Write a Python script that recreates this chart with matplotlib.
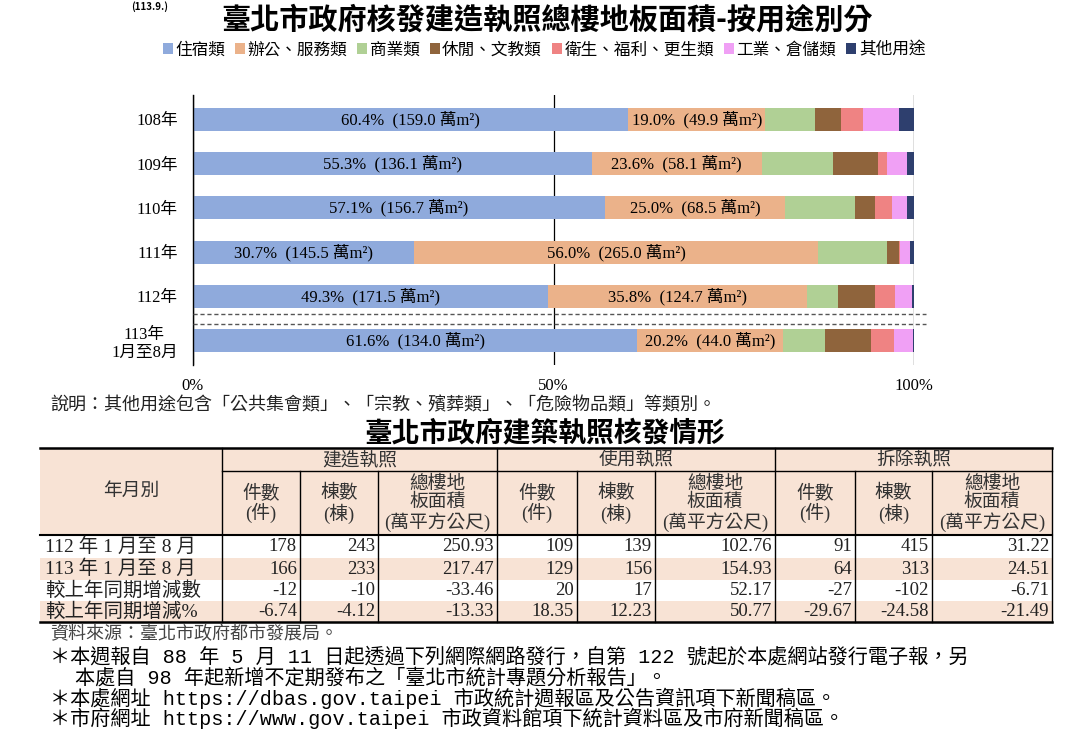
import numpy as np
import matplotlib.pyplot as plt
from matplotlib.patches import Patch, Rectangle

SERIF = ['Liberation Serif', 'Noto Sans CJK TC']
CJK = ['Noto Sans CJK TC', 'DejaVu Sans']
MONO = ['Liberation Mono', 'Noto Sans CJK TC']

# --- chart data (percent of floor area by use) ---
years = ['108年', '109年', '110年', '111年', '112年', '113年\n1月至8月']
categories = ['住宿類', '辦公、服務類', '商業類', '休閒、文教類',
              '衛生、福利、更生類', '工業、倉儲類', '其他用途']
residential = [60.4, 55.3, 57.1, 30.7, 49.3, 61.6]
office = [19.0, 23.6, 25.0, 56.0, 35.8, 20.2]
commercial = [6.8, 9.8, 9.7, 9.6, 4.3, 5.9]
leisure = [3.7, 6.3, 2.8, 1.6, 5.2, 6.3]
health = [3.0, 1.3, 2.3, 0.2, 2.8, 3.2]
industry = [5.0, 2.7, 2.1, 1.3, 2.3, 2.7]
other = [2.1, 1.0, 1.0, 0.6, 0.3, 0.1]
residential_area = [159.0, 136.1, 156.7, 145.5, 171.5, 134.0]
office_area = [49.9, 58.1, 68.5, 265.0, 124.7, 44.0]
colors = ['#8faadc', '#ebb28a', '#b0d095', '#8f643c', '#ef8383', '#f0a0f5', '#2e3f6e']

# --- table data ---
row_labels = ['112 年 1 月至 8 月', '113 年 1 月至 8 月', '較上年同期增減數', '較上年同期增減%']
groups = ['建造執照', '使用執照', '拆除執照']
sub_heads = ['件數\n(件)', '棟數\n(棟)', '總樓地\n板面積\n(萬平方公尺)']
row112 = [178, 243, 250.93, 109, 139, 102.76, 91, 415, 31.22]
row113 = [166, 233, 217.47, 129, 156, 154.93, 64, 313, 24.51]
row_diff = [-12, -10, -33.46, 20, 17, 52.17, -27, -102, -6.71]
row_pct = [-6.74, -4.12, -13.33, 18.35, 12.23, 50.77, -29.67, -24.58, -21.49]

fig = plt.figure(figsize=(10.8, 7.41), dpi=100)
W, H = 1080, 741

# overlay in pixel coords for the text blocks and the table
ov = fig.add_axes([0, 0, 1, 1])
ov.set_xlim(0, W)
ov.set_ylim(H, 0)
ov.axis('off')

ov.text(150, 1, '(113.9.)', ha='center', va='top', fontsize=7,
        fontweight='bold', family=CJK)
ov.text(547, 19, '臺北市政府核發建造執照總樓地板面積-按用途別分', ha='center', va='center',
        fontsize=21, fontweight='bold', family=CJK)

# --- stacked bar chart ---
ax = fig.add_axes([193 / W, 1 - 365 / H, 721 / W, 270 / H])
series = [residential, office, commercial, leisure, health, industry, other]
y = np.arange(len(years))
left = np.zeros(len(years))
for vals, c in zip(series, colors):
    ax.barh(y, vals, left=left, height=0.52, color=c, zorder=2)
    left += np.array(vals)

for i in range(len(years)):
    ax.text(residential[i] / 2, i, f'{residential[i]:.1f}%  ({residential_area[i]:.1f} 萬m²)',
            ha='center', va='center', fontsize=12, family=SERIF, zorder=3)
    ax.text(residential[i] + office[i] / 2, i, f'{office[i]:.1f}%  ({office_area[i]:.1f} 萬m²)',
            ha='center', va='center', fontsize=12, family=SERIF, zorder=3)

for yy in (4.4, 4.62):
    ax.plot([0, 101.6], [yy, yy], ls=(0, (3, 2)), color='#555555', lw=1,
            clip_on=False, zorder=3)

ax.set_xlim(0, 100)
ax.set_ylim(5.55, -0.55)
ax.set_xticks([0, 50, 100])
ax.set_xticklabels(['0%', '50%', '100%'], family=SERIF, fontsize=12)
ax.set_yticks(y)
ax.set_yticklabels(years, family=SERIF, fontsize=12)
ax.get_yticklabels()[-1].set_multialignment('center')
ax.tick_params(length=0)
ax.tick_params(axis='x', pad=9)
ax.tick_params(axis='y', pad=11)
ax.grid(axis='x', color='black', lw=0.9, zorder=0)
ax.set_axisbelow(True)
for s in ('top', 'right', 'bottom'):
    ax.spines[s].set_visible(False)
ax.spines['left'].set_linewidth(1)

handles = [Patch(facecolor=c, edgecolor='none') for c in colors]
fig.legend(handles, categories, loc='center', bbox_to_anchor=(544 / W, 1 - 50 / H), ncol=7,
           frameon=False, handlelength=0.6, handleheight=0.6, handletextpad=0.15,
           columnspacing=0.6, prop={'family': CJK, 'size': 12})

ov.text(50, 405, '說明：其他用途包含「公共集會類」、「宗教、殯葬類」、「危險物品類」等類別。',
        ha='left', va='center', fontsize=13, family=CJK, color='#222222')

# --- table ---
ov.text(545, 433, '臺北市政府建築執照核發情形', ha='center', va='center',
        fontsize=20, fontweight='bold', family=CJK)

peach = '#f8e3d5'
col_edges = [40, 222, 300, 378, 497, 577, 655, 775, 855, 932, 1052]
t_top, t_mid, t_head = 448, 471, 535
row_edges = [535, 558, 580, 601, 622]

ov.add_patch(Rectangle((col_edges[0], t_top), col_edges[-1] - col_edges[0], t_head - t_top,
                       facecolor=peach, edgecolor='none'))
for r in (1, 3):
    ov.add_patch(Rectangle((col_edges[0], row_edges[r]), col_edges[-1] - col_edges[0],
                           row_edges[r + 1] - row_edges[r], facecolor=peach, edgecolor='none'))

ov.plot([col_edges[0], col_edges[-1]], [t_top, t_top], color='black', lw=1.8)
ov.plot([col_edges[1], col_edges[-1]], [t_mid, t_mid], color='black', lw=1)
ov.plot([col_edges[0], col_edges[-1]], [t_head, t_head], color='black', lw=1.5)
ov.plot([col_edges[0], col_edges[-1]], [row_edges[-1], row_edges[-1]], color='black', lw=1.8)
for j, xe in enumerate(col_edges[1:]):
    top = t_top if j % 3 == 0 else t_mid
    ov.plot([xe, xe], [top, row_edges[-1]], color='black', lw=1)

hdr_kw = dict(ha='center', va='center', fontsize=13.5, family=SERIF, color='#333333')
ov.text((col_edges[0] + col_edges[1]) / 2, (t_top + t_head) / 2, '年月別', **hdr_kw)
for g, name in enumerate(groups):
    x0, x1 = col_edges[1 + 3 * g], col_edges[4 + 3 * g]
    ov.text((x0 + x1) / 2, (t_top + t_mid) / 2 + 1, name, **hdr_kw)
    for k, sh in enumerate(sub_heads):
        xa, xb = col_edges[1 + 3 * g + k], col_edges[2 + 3 * g + k]
        ov.text((xa + xb) / 2, (t_mid + t_head) / 2 + 1, sh, linespacing=1.05, **hdr_kw)

table_rows = [row112, row113, row_diff, row_pct]
for r, (lab, vals) in enumerate(zip(row_labels, table_rows)):
    yc = (row_edges[r] + row_edges[r + 1]) / 2
    ov.text(col_edges[0] + 5, yc, lab, ha='left', va='center', fontsize=14,
            family=SERIF, color='#222222')
    for k, v in enumerate(vals):
        if r == 3 or k % 3 == 2:
            s = f'{v:.2f}'
        else:
            s = f'{int(v)}'
        ov.text(col_edges[k + 2] - 3, yc, s, ha='right', va='center', fontsize=13.5,
                family=SERIF, color='#222222')

# --- footnotes ---
ov.text(50, 634, '資料來源：臺北市政府都市發展局。', ha='left', va='center',
        fontsize=13, family=CJK, color='#444444')
notes = [
    (50, 657, '＊本週報自 88 年 5 月 11 日起透過下列網際網路發行，自第 122 號起於本處網站發行電子報，另'),
    (75, 678, '本處自 98 年起新增不定期發布之「臺北市統計專題分析報告」。'),
    (50, 698, '＊本處網址 https://dbas.gov.taipei 市政統計週報區及公告資訊項下新聞稿區。'),
    (50, 718, '＊市府網址 https://www.gov.taipei 市政資料館項下統計資料區及市府新聞稿區。'),
]
for nx_, ny_, txt in notes:
    ov.text(nx_, ny_, txt, ha='left', va='center', fontsize=14.5, family=MONO, color='black')

fig.savefig('out.png', dpi=100)
